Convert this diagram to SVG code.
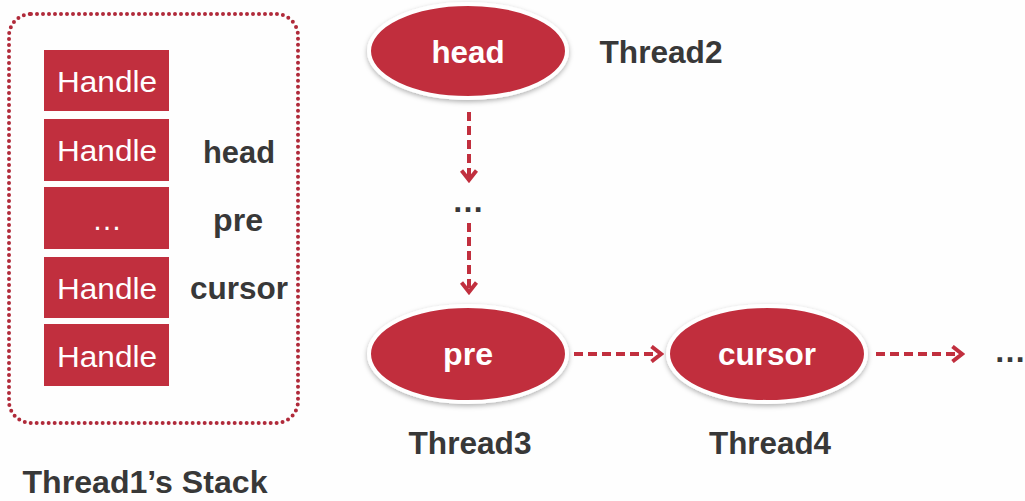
<svg xmlns="http://www.w3.org/2000/svg" width="1025" height="501" viewBox="0 0 1025 501">
<style>
.box{fill:#c12f3e}
.ht{font-family:"Liberation Sans",Arial,sans-serif;font-size:30px;fill:#fff;text-anchor:middle}
.lb{font-family:"Liberation Sans",Arial,sans-serif;font-weight:bold;font-size:32px;fill:#383838;text-anchor:middle}
.nt{font-family:"Liberation Sans",Arial,sans-serif;font-weight:bold;font-size:32px;fill:#fff;text-anchor:middle}
.ell{fill:#c12f3e;stroke:#fff;stroke-width:4;filter:url(#sh)}
.conn{fill:none;stroke:#c12f3e;stroke-width:4;stroke-dasharray:9 5}
</style>
<defs>
<filter id="sh" x="-20%" y="-20%" width="140%" height="150%">
<feDropShadow dx="0" dy="2" stdDeviation="2.5" flood-color="#000" flood-opacity="0.3"/>
</filter>
<marker id="ar" viewBox="0 0 14 18" refX="11" refY="9" markerWidth="14" markerHeight="18" markerUnits="userSpaceOnUse" orient="auto">
<path d="M1.5,1.5 L11,9 L1.5,16.5" fill="none" stroke="#c12f3e" stroke-width="4"/>
</marker>
</defs>
<rect width="1025" height="501" fill="#fefefe"/>
<g id="stack">
<rect x="9" y="14" width="289" height="409" rx="22" fill="none" stroke="#b02a3a" stroke-width="4" stroke-linecap="round" stroke-dasharray="0 6"/>
<text class="lb" x="145" y="493" textLength="245" lengthAdjust="spacingAndGlyphs">Thread1’s Stack</text>
</g>
<g id="slot1"><rect class="box" x="44" y="50" width="125" height="61"/><text class="ht" x="107" y="92" textLength="100" lengthAdjust="spacingAndGlyphs">Handle</text></g>
<g id="slot2"><rect class="box" x="44" y="119" width="125" height="62"/><text class="ht" x="107" y="161" textLength="100" lengthAdjust="spacingAndGlyphs">Handle</text></g>
<g id="slot3"><rect class="box" x="44" y="187" width="125" height="62"/><text class="ht" x="107" y="230">…</text></g>
<g id="slot4"><rect class="box" x="44" y="257" width="125" height="61"/><text class="ht" x="107" y="299" textLength="100" lengthAdjust="spacingAndGlyphs">Handle</text></g>
<g id="slot5"><rect class="box" x="44" y="324" width="125" height="62"/><text class="ht" x="107" y="367" textLength="100" lengthAdjust="spacingAndGlyphs">Handle</text></g>
<g id="labels">
<text class="lb" x="239" y="163" textLength="72" lengthAdjust="spacingAndGlyphs">head</text>
<text class="lb" x="238" y="231" textLength="50" lengthAdjust="spacingAndGlyphs">pre</text>
<text class="lb" x="239" y="299" textLength="98" lengthAdjust="spacingAndGlyphs">cursor</text>
</g>
<g id="headNode">
<ellipse class="ell" cx="468" cy="51" rx="99" ry="47"/>
<text class="nt" x="468" y="63" textLength="73" lengthAdjust="spacingAndGlyphs">head</text>
<text class="lb" x="661" y="63" textLength="123" lengthAdjust="spacingAndGlyphs">Thread2</text>
</g>
<g id="preNode">
<ellipse class="ell" cx="468" cy="354" rx="99" ry="48"/>
<text class="nt" x="468" y="365" textLength="50" lengthAdjust="spacingAndGlyphs">pre</text>
<text class="lb" x="470" y="454" textLength="123" lengthAdjust="spacingAndGlyphs">Thread3</text>
</g>
<g id="cursorNode">
<ellipse class="ell" cx="767" cy="354" rx="99" ry="48"/>
<text class="nt" x="767" y="365" textLength="98" lengthAdjust="spacingAndGlyphs">cursor</text>
<text class="lb" x="770" y="454" textLength="122" lengthAdjust="spacingAndGlyphs">Thread4</text>
</g>
<g id="ellipsis">
<text class="lb" x="468" y="212">…</text>
<text class="lb" x="1010" y="362">…</text>
</g>
<g id="connectors">
<path class="conn" d="M469,112 L469,180" marker-end="url(#ar)"/>
<path class="conn" d="M469,223 L469,292" marker-end="url(#ar)"/>
<path class="conn" d="M574,354 L661,354" marker-end="url(#ar)"/>
<path class="conn" d="M876,354 L962,354" marker-end="url(#ar)"/>
</g>
</svg>
